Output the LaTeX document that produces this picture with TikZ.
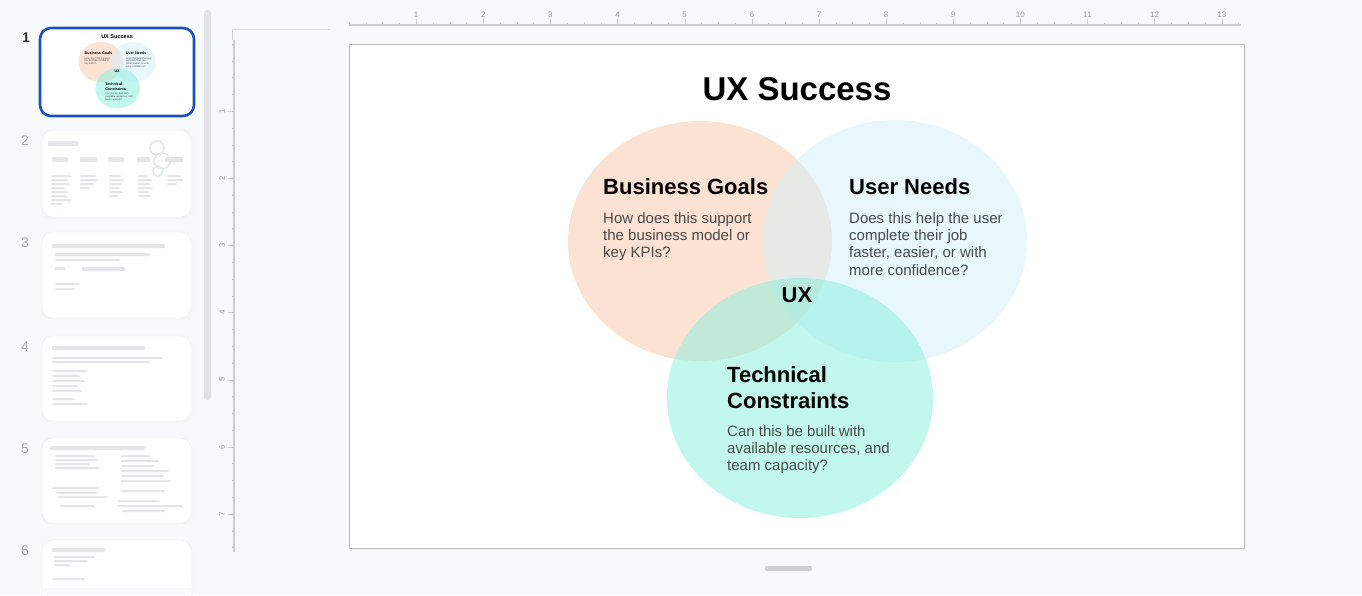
\documentclass[tikz,border=0pt]{standalone}
\usepackage{fontspec}
\setmainfont{Liberation Sans}
\definecolor{appbg}{HTML}{F8F9FB}
\definecolor{orangeF}{HTML}{F9C7A9}
\definecolor{blueF}{HTML}{D3F0FA}
\definecolor{tealF}{HTML}{86F0DE}
\definecolor{bodytxt}{HTML}{4A4A4A}
\definecolor{selblue}{HTML}{1D4FBF}
\definecolor{rulerc}{HTML}{CACCD0}
\definecolor{rulernumc}{HTML}{9A9CA0}
\definecolor{scrollc}{HTML}{E2E3E5}
\definecolor{slideborder}{HTML}{BDBDBD}
\definecolor{thumbborder}{HTML}{EAEBED}
\definecolor{blurc}{HTML}{E3E5E8}
\definecolor{thumbnumc}{HTML}{A8AAAE}
\newcommand\lns[1]{\vtop{\halign{##\hfil\cr#1\crcr}}}
\tikzset{
  titletxt/.style={anchor=base, inner sep=0, font=\bfseries\fontsize{33}{40}\selectfont, text=black},
  headtxt/.style={anchor=base west, inner sep=0, font=\bfseries\fontsize{22}{26}\selectfont, text=black},
  uxtxt/.style={anchor=base, inner sep=0, font=\bfseries\fontsize{22}{26}\selectfont, text=black},
  bodytxtst/.style={anchor=base west, inner sep=0, font=\fontsize{15}{17.4}\selectfont, text=bodytxt},
  circfill/.style={fill=#1, fill opacity=0.5},
  rulernum/.style={inner sep=0, font=\fontsize{8}{9}\selectfont, text=rulernumc},
  thumbnum/.style={inner sep=0, font=\fontsize{14}{16}\selectfont, text=thumbnumc},
  blurbar/.style={fill=blurc, rounded corners=1},
  thumbbox/.style={fill=white, draw=thumbborder, rounded corners=10}
}
\newcommand\slidebody[1]{%
  \fill[circfill=orangeF] (700,241) ellipse [x radius=132, y radius=120];
  \fill[circfill=blueF] (895,241) ellipse [x radius=132, y radius=121];
  \fill[circfill=tealF] (800,398) ellipse [x radius=133, y radius=120];
  \node[titletxt] (#1title) at (797,100) {UX Success};
  \node[headtxt] (#1bgh) at (603,194) {Business Goals};
  \node[bodytxtst] (#1bgb) at (603,223) {\lns{How does this support\cr the business model or\cr key KPIs?}};
  \node[headtxt] (#1unh) at (849,194) {User Needs};
  \node[bodytxtst] (#1unb) at (849,223) {\lns{Does this help the user\cr complete their job\cr faster, easier, or with\cr more confidence?}};
  \node[uxtxt] (#1ux) at (797,302) {UX};
  \node[headtxt] (#1tch) at (727,382) {\lns{Technical\cr Constraints}};
  \node[bodytxtst] (#1tcb) at (727,436) {\lns{Can this be built with\cr available resources, and\cr team capacity?}};
}
\begin{document}
\begin{tikzpicture}[x=1pt,y=-1pt]
\useasboundingbox (0,0) rectangle (1362,595);
\fill[appbg] (0,0) rectangle (1362,595);

% sidebar scrollbar
\fill[scrollc, rounded corners=3] (204,10) rectangle (211,400);

% horizontal ruler
\draw[rulerc, line width=1.2] (349,25) -- (1241,25);
\foreach \k in {0,...,53} {
  \draw[rulerc] ({349+16.785*\k},25) -- ({349+16.785*\k},23);
}
\foreach \k in {0,...,26} {
  \draw[rulerc] ({349+33.57*\k},25) -- ({349+33.57*\k},21.5);
}
\foreach \k in {1,...,13} {
  \draw[rulerc] ({349+67.14*\k},25) -- ({349+67.14*\k},19);
  \node[rulernum] (hr\k) at ({349+67.14*\k},15) {\k};
}
% vertical ruler
\draw[rulerc] (232,30) -- (232,40);
\draw[rulerc!60] (232,29) -- (330,29);
\draw[rulerc, line width=1.2] (234,40) -- (234,552);
\foreach \k in {0,...,30} {
  \draw[rulerc] (234,{44+16.785*\k}) -- (231.5,{44+16.785*\k});
}
\foreach \k in {1,...,7} {
  \draw[rulerc] (234,{44+67.14*\k}) -- (228,{44+67.14*\k});
  \node[rulernum, rotate=90] (vr\k) at (222,{44+67.14*\k}) {\k};
}

% main slide
\fill[black!7] (350.5,46) rectangle (1245.5,550);
\fill[white] (349,44) rectangle (1244,548);
\slidebody{m}
\draw[slideborder] (349,44) rectangle (1244,548);

% bottom pill
\fill[black!18, rounded corners=2] (765,566) rectangle (812,571);

% thumbnail 1 (selected)
\fill[white, rounded corners=11] (40,28) rectangle (194,116);
\begin{scope}[shift={({42-349*0.1676},{29-44*0.1676})}, scale=0.1676, transform shape]
  \slidebody{t}
\end{scope}
\draw[selblue, line width=2.6, rounded corners=11] (40,28) rectangle (194,116);
\node[inner sep=0, font=\bfseries\fontsize{14}{16}\selectfont, text=black!85] (n1) at (26,38) {1};

% other thumbnails
\foreach \ya/\yb/\n in {130/217/2, 232/318/3, 336/421/4, 438/523/5, 540/625/6} {
  \fill[black!3, rounded corners=10] (41,\ya+2) rectangle (193,\yb+2);
  \path[thumbbox] (42,\ya) rectangle (191,\yb);
  \node[thumbnum] (n\n) at (25,\ya+11) {\n};
}

% thumbnail 2 contents (blurred)
\fill[blurbar] (48,141) rectangle (78,146);
\foreach \xa/\xb in {52/68, 80/97, 108/124, 137/150, 165/183} {
  \fill[blurbar] (\xa,157) rectangle (\xb,162);
}
\foreach \yy/\w in {175/20, 179/17, 183/19, 187/14, 191/18, 195/16, 199/20, 203/12} {
  \fill[blurbar] (51,\yy) rectangle (51+\w,\yy+2);
}
\foreach \yy/\w in {175/16, 179/18, 183/14, 187/10} {
  \fill[blurbar] (80,\yy) rectangle (80+\w,\yy+2);
}
\foreach \yy/\w in {175/12, 179/15, 183/13, 187/11, 191/14, 195/9} {
  \fill[blurbar] (109,\yy) rectangle (109+\w,\yy+2);
}
\foreach \yy/\w in {175/10, 179/14, 183/12, 187/15, 191/11, 195/13} {
  \fill[blurbar] (138,\yy) rectangle (138+\w,\yy+2);
}
\foreach \yy/\w in {175/14, 179/16, 183/10} {
  \fill[blurbar] (167,\yy) rectangle (167+\w,\yy+2);
}
\draw[blueF!70!gray!50, line width=1.5] (157,148) circle [radius=7];
\draw[blueF!70!gray!50, line width=1.5] (162,161) circle [radius=8];
\draw[blueF!70!gray!50, line width=1.5] (158,171) circle [radius=5];

% thumbnail 3 contents
\fill[blurbar] (52,244) rectangle (165,248);
\fill[blurbar] (55,253) rectangle (150,256);
\fill[blurbar] (55,259) rectangle (120,261);
\fill[blurbar] (55,267) rectangle (65,270);
\fill[blurbar] (82,267) rectangle (125,271);
\fill[blurbar] (55,283) rectangle (80,285);
\fill[blurbar] (55,288) rectangle (75,290);

% thumbnail 4 contents
\fill[blurbar] (52,346) rectangle (145,350);
\fill[blurbar] (52,357) rectangle (163,359);
\fill[blurbar] (52,361) rectangle (150,363);
\foreach \yy/\w in {370/36, 375/28, 380/33, 385/26, 390/30, 398/23, 403/36} {
  \fill[blurbar] (52,\yy) rectangle (52+\w,\yy+2);
}

% thumbnail 5 contents
\fill[blurbar] (50,446) rectangle (145,450);
\foreach \yy/\w in {455/40, 459/43, 463/35, 467/45} {
  \fill[blurbar] (55,\yy) rectangle (55+\w,\yy+2);
}
\foreach \yy/\w in {455/30, 460/38, 465/33, 470/48, 475/43, 480/50} {
  \fill[blurbar] (121,\yy) rectangle (121+\w,\yy+2);
}
\foreach \yy/\xa/\w in {487/52/48, 492/56/42, 496/58/50, 505/60/35} {
  \fill[blurbar] (\xa,\yy) rectangle (\xa+\w,\yy+2);
}
\foreach \yy/\xa/\w in {490/120/45, 500/118/42, 505/118/65, 510/122/43} {
  \fill[blurbar] (\xa,\yy) rectangle (\xa+\w,\yy+2);
}

% thumbnail 6 contents
\fill[blurbar] (52,548) rectangle (105,552);
\fill[blurbar] (54,556) rectangle (95,558);
\fill[blurbar] (54,560) rectangle (88,562);
\fill[blurbar] (54,564) rectangle (70,566);
\fill[blurbar] (52,578) rectangle (85,580);

% bottom fade over sidebar
\fill[appbg] (0,588) rectangle (200,595);
\end{tikzpicture}
\end{document}
